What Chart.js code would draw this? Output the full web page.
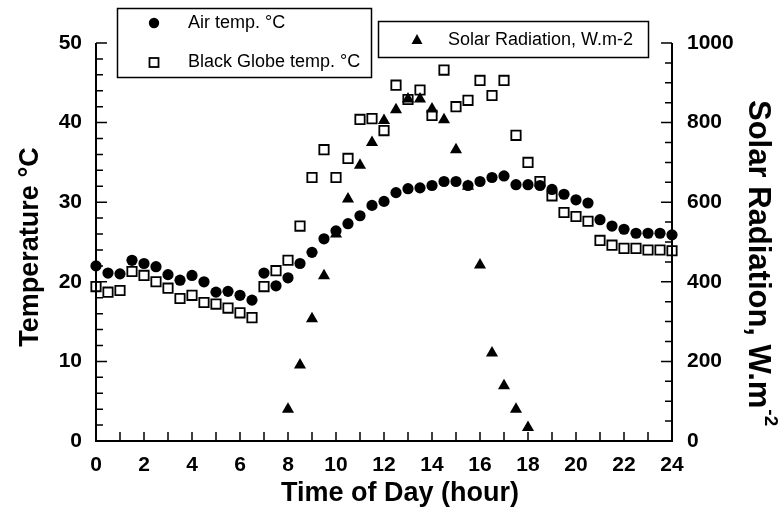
<!DOCTYPE html>
<html>
<head>
<meta charset="utf-8">
<script src="https://cdn.jsdelivr.net/npm/chart.js@4.4.1/dist/chart.umd.min.js"></script>
<style>
  html, body { margin: 0; padding: 0; background: #fff; }
  #wrap { width: 783px; height: 513px; }
</style>
</head>
<body>
<div id="wrap"><canvas id="chart"></canvas></div>
<script>
// time of day (hour), one reading every half hour
const hours = [0, 0.5, 1, 1.5, 2, 2.5, 3, 3.5, 4, 4.5, 5, 5.5, 6, 6.5, 7, 7.5, 8, 8.5, 9, 9.5,
  10, 10.5, 11, 11.5, 12, 12.5, 13, 13.5, 14, 14.5, 15, 15.5, 16, 16.5, 17, 17.5, 18, 18.5, 19, 19.5,
  20, 20.5, 21, 21.5, 22, 22.5, 23, 23.5, 24];

const airTemp = [22.0, 21.1, 21.0, 22.7, 22.3, 21.9, 20.9, 20.2, 20.8, 20.0, 18.7, 18.8, 18.3, 17.7, 21.1, 19.5, 20.5, 22.3, 23.7, 25.4,
  26.4, 27.3, 28.3, 29.6, 30.1, 31.2, 31.7, 31.8, 32.1, 32.6, 32.6, 32.1, 32.6, 33.1, 33.3, 32.2, 32.2, 32.1, 31.6, 31.0,
  30.3, 29.9, 27.8, 27.0, 26.6, 26.1, 26.1, 26.1, 25.9];

const globeTemp = [19.4, 18.7, 18.9, 21.3, 20.8, 20.0, 19.2, 17.9, 18.3, 17.4, 17.2, 16.7, 16.1, 15.5, 19.4, 21.4, 22.7, 27.0, 33.1, 36.6,
  33.1, 35.5, 40.4, 40.5, 39.0, 44.7, 42.9, 44.1, 40.9, 46.6, 42.0, 42.8, 45.3, 43.4, 45.3, 38.4, 35.0, 32.6, 30.8, 28.7,
  28.2, 27.6, 25.2, 24.6, 24.2, 24.2, 24.0, 24.0, 23.9];

// solar radiation only measured in daylight
const solarHours = [8, 8.5, 9, 9.5, 10, 10.5, 11, 11.5, 12, 12.5, 13, 13.5, 14, 14.5, 15, 15.5, 16, 16.5, 17, 17.5, 18];
const solarRad = [80, 191, 307, 415, 520, 608, 693, 750, 805, 832, 859, 859, 834, 807, 732, 640, 442, 221, 139, 80, 34];

const tempTicks = [0, 10, 20, 30, 40, 50];
const solarTicks = [0, 200, 400, 600, 800, 1000];
const hourLabels = [0, 2, 4, 6, 8, 10, 12, 14, 16, 18, 20, 22, 24];

const FONT = "'Liberation Sans', Arial, Helvetica, sans-serif";

const toPoints = (xs, ys) => xs.map((x, i) => ({ x: x, y: ys[i] }));

// draws the axis lines, inward tick marks, axis titles and the two legend boxes
const decorations = {
  id: "decorations",
  afterDraw(chart) {
    const { ctx, chartArea } = chart;
    const x = chart.scales.x, y = chart.scales.y, y2 = chart.scales.y2;
    const { left, right, top, bottom } = chartArea;
    ctx.save();
    ctx.strokeStyle = "#000";
    ctx.fillStyle = "#000";

    // axis lines
    ctx.lineWidth = 2;
    ctx.beginPath();
    ctx.moveTo(left, top);
    ctx.lineTo(left, bottom);
    ctx.lineTo(right, bottom);
    ctx.lineTo(right, top);
    ctx.stroke();

    ctx.lineWidth = 1.5;
    ctx.beginPath();
    for (let h = 0; h <= 24; h++) {
      const px = x.getPixelForValue(h);
      ctx.moveTo(px, bottom);
      ctx.lineTo(px, bottom - 9);
    }
    for (let t = 0; t <= 50; t += 2) {
      const py = y.getPixelForValue(t);
      const len = t % 10 === 0 ? 11 : 7;
      ctx.moveTo(left, py);
      ctx.lineTo(left + len, py);
    }
    for (let s = 0; s <= 1000; s += 50) {
      const py = y2.getPixelForValue(s);
      const len = s % 200 === 0 ? 11 : 7;
      ctx.moveTo(right, py);
      ctx.lineTo(right - len, py);
    }
    ctx.stroke();

    // axis titles
    ctx.font = "bold 27px " + FONT;
    ctx.textBaseline = "middle";
    ctx.textAlign = "center";
    ctx.fillText("Time of Day (hour)", (left + right) / 2 + 16, 494);

    ctx.save();
    ctx.translate(31, 247);
    ctx.rotate(-Math.PI / 2);
    ctx.fillText("Temperature \u00b0C", 0, 0);
    ctx.restore();

    ctx.save();
    ctx.translate(758, 100);
    ctx.rotate(Math.PI / 2);
    ctx.textAlign = "left";
    ctx.font = "bold 31px " + FONT;
    const main = "Solar Radiation, W.m";
    ctx.fillText(main, 0, 0);
    const w = ctx.measureText(main).width;
    ctx.font = "bold 19px " + FONT;
    ctx.fillText("-2", w + 1, -12);
    ctx.restore();

    // legend boxes
    ctx.lineWidth = 1.5;
    ctx.strokeRect(117.5, 8.5, 254, 69);
    ctx.strokeRect(378.5, 21.5, 270, 36);

    ctx.beginPath();
    ctx.arc(154, 23, 5.2, 0, Math.PI * 2);
    ctx.fill();

    ctx.lineWidth = 1.8;
    ctx.strokeRect(149.5, 58, 9, 9);

    ctx.beginPath();
    ctx.moveTo(417, 34);
    ctx.lineTo(422.5, 44);
    ctx.lineTo(411.5, 44);
    ctx.closePath();
    ctx.fill();

    ctx.font = "18px " + FONT;
    ctx.textAlign = "left";
    ctx.fillText("Air temp. \u00b0C", 188, 23);
    ctx.fillText("Black Globe temp. \u00b0C", 188, 62);
    ctx.fillText("Solar Radiation, W.m-2", 448, 40);

    ctx.restore();
  }
};

const ctx = document.getElementById("chart").getContext("2d");
new Chart(ctx, {
  type: "scatter",
  data: {
    datasets: [
      {
        label: "Air temp. \u00b0C",
        data: toPoints(hours, airTemp),
        yAxisID: "y",
        pointStyle: "circle",
        pointRadius: 5.6,
        backgroundColor: "#000",
        borderColor: "#000",
        borderWidth: 0,
        order: 1,
        clip: false,
      },
      {
        label: "Solar Radiation, W.m-2",
        data: toPoints(solarHours, solarRad),
        yAxisID: "y2",
        pointStyle: "triangle",
        pointRadius: 7,
        backgroundColor: "#000",
        borderColor: "#000",
        borderWidth: 0,
        order: 2,
        clip: false,
      },
      {
        label: "Black Globe temp. \u00b0C",
        data: toPoints(hours, globeTemp),
        yAxisID: "y",
        pointStyle: "rect",
        pointRadius: 6.6,
        backgroundColor: "rgba(255,255,255,0)",
        borderColor: "#000",
        borderWidth: 1.8,
        order: 3,
        clip: false,
      },
    ],
  },
  options: {
    responsive: true,
    maintainAspectRatio: false,
    animation: false,
    events: [],
    layout: { padding: { top: 43, left: 0, right: 0, bottom: 0 } },
    plugins: {
      legend: { display: false },
      tooltip: { enabled: false },
    },
    scales: {
      x: {
        type: "linear",
        position: "bottom",
        min: 0,
        max: 24,
        afterFit: (scale) => { scale.height = 72; },
        afterBuildTicks: (scale) => { scale.ticks = hourLabels.map((v) => ({ value: v })); },
        grid: { display: false, drawTicks: false },
        border: { display: false },
        ticks: {
          autoSkip: false,
          maxRotation: 0,
          padding: 12,
          color: "#000",
          callback: (v) => String(v),
          font: { family: FONT, size: 21, weight: "bold" },
        },
      },
      y: {
        type: "linear",
        position: "left",
        min: 0,
        max: 50,
        afterFit: (scale) => { scale.width = 96; },
        afterBuildTicks: (scale) => { scale.ticks = tempTicks.map((v) => ({ value: v })); },
        grid: { display: false, drawTicks: false },
        border: { display: false },
        ticks: {
          padding: 14,
          color: "#000",
          callback: (v) => String(v),
          font: { family: FONT, size: 21, weight: "bold" },
        },
      },
      y2: {
        type: "linear",
        position: "right",
        min: 0,
        max: 1000,
        afterFit: (scale) => { scale.width = 111; },
        afterBuildTicks: (scale) => { scale.ticks = solarTicks.map((v) => ({ value: v })); },
        grid: { display: false, drawTicks: false },
        border: { display: false },
        ticks: {
          padding: 15,
          color: "#000",
          callback: (v) => String(v),
          font: { family: FONT, size: 21, weight: "bold" },
        },
      },
    },
  },
  plugins: [decorations],
});
</script>
</body>
</html>
